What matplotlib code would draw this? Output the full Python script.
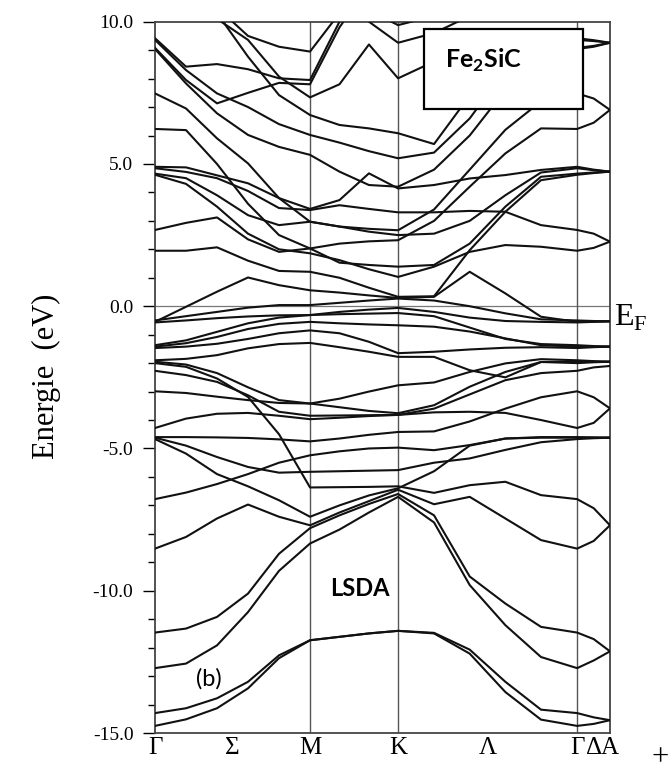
import matplotlib
matplotlib.use("Agg")
import matplotlib.pyplot as plt
from matplotlib.patches import Rectangle

plt.rcParams['font.family'] = ['Liberation Serif', 'DejaVu Serif']
plt.rcParams['mathtext.fontset'] = 'custom'
plt.rcParams['mathtext.rm'] = 'Liberation Serif'
plt.rcParams['mathtext.bf'] = 'Lato:bold'

# k-path: Γ -> M -> K -> Γ -> A (distances, Γ-M = 1)
kpath = [0.0, 0.2, 0.4, 0.6, 0.8, 1.0, 1.19, 1.38, 1.568,
         1.80, 2.03, 2.26, 2.49, 2.723, 2.83, 2.935]
kticks = [0.0, 0.5, 1.0, 1.568, 2.148, 2.723, 2.83, 2.935]
klabels = ['Γ', 'Σ', 'M', 'K', 'Λ', 'Γ', 'Δ', 'A']
sym_points = [1.0, 1.568, 2.723]

ytick_vals = [10, 5, 0, -5, -10, -15]
ytick_text = ['10.0', '5.0', '0.0', '-5.0', '-10.0', '-15.0']

# Si/C s-p bands and lower Fe d bands (eV)
low_bands = [
    [-14.75, -14.52, -14.13, -13.43, -12.37, -11.74, -11.62, -11.50, -11.41, -11.50, -12.21, -13.56, -14.53, -14.75, -14.68, -14.55],
    [-14.30, -14.13, -13.78, -13.20, -12.27, -11.74, -11.62, -11.50, -11.41, -11.48, -12.07, -13.20, -14.18, -14.30, -14.45, -14.55],
    [-12.72, -12.56, -11.92, -10.75, -9.30, -8.34, -7.85, -7.25, -6.70, -7.60, -9.80, -11.21, -12.33, -12.72, -12.45, -12.13],
    [-11.47, -11.33, -10.92, -10.10, -8.70, -7.80, -7.35, -6.95, -6.60, -7.35, -9.50, -10.45, -11.27, -11.47, -11.70, -12.13],
    [-8.52, -8.11, -7.46, -6.97, -7.40, -7.70, -7.25, -6.85, -6.45, -6.96, -6.70, -7.46, -8.22, -8.52, -8.25, -7.70],
    [-6.78, -6.55, -6.25, -5.90, -5.50, -5.24, -5.10, -5.00, -4.97, -5.06, -4.88, -4.65, -4.60, -4.60, -4.61, -4.62],
    [-4.67, -5.18, -5.90, -6.33, -6.82, -7.40, -7.00, -6.65, -6.40, -5.80, -4.90, -4.65, -4.62, -4.62, -4.62, -4.62],
    [-4.62, -4.90, -5.30, -5.65, -5.85, -5.82, -5.80, -5.78, -5.76, -5.50, -5.35, -5.05, -4.78, -4.67, -4.64, -4.62],
    [-4.60, -4.60, -4.61, -4.63, -4.68, -4.75, -4.65, -4.52, -4.42, -4.40, -4.05, -3.60, -3.20, -2.99, -3.20, -3.59],
    [-4.28, -3.95, -3.78, -3.75, -3.85, -3.97, -3.92, -3.86, -3.82, -3.73, -3.71, -3.75, -4.00, -4.28, -4.10, -3.59],
]

# d bands around the Fermi level
d_bands = [
    [-2.99, -3.05, -3.18, -3.30, -3.40, -3.42, -3.55, -3.68, -3.76, -3.48, -2.83, -2.31, -1.96, -2.00, -1.97, -1.95],
    [-2.27, -2.42, -2.66, -3.13, -3.71, -3.85, -3.84, -3.83, -3.82, -3.60, -3.10, -2.60, -2.35, -2.27, -2.15, -2.10],
    [-2.00, -2.13, -2.54, -3.19, -4.50, -6.37, -6.36, -6.35, -6.33, -6.56, -6.29, -6.17, -6.64, -6.78, -7.10, -7.70],
    [-1.95, -2.05, -2.35, -2.85, -3.30, -3.42, -3.25, -3.00, -2.78, -2.68, -2.31, -2.01, -1.86, -1.90, -1.93, -1.95],
    [-1.90, -1.85, -1.72, -1.48, -1.33, -1.29, -1.44, -1.60, -1.78, -1.78, -2.25, -2.50, -1.96, -1.95, -1.95, -1.95],
    [-1.47, -1.42, -1.32, -1.15, -0.95, -0.85, -0.95, -1.25, -1.65, -1.60, -1.52, -1.46, -1.44, -1.47, -1.44, -1.42],
    [-1.42, -1.30, -1.08, -0.80, -0.62, -0.55, -0.60, -0.64, -0.67, -0.72, -0.89, -1.13, -1.37, -1.42, -1.42, -1.42],
    [-1.37, -1.20, -0.90, -0.60, -0.40, -0.31, -0.28, -0.26, -0.24, -0.35, -0.75, -1.15, -1.33, -1.37, -1.40, -1.42],
    [-0.57, -0.50, -0.42, -0.36, -0.32, -0.31, -0.20, -0.12, -0.06, -0.20, -0.40, -0.52, -0.55, -0.57, -0.55, -0.53],
    [-0.50, -0.35, -0.20, -0.05, 0.04, 0.04, 0.12, 0.20, 0.27, 0.20, 0.00, -0.25, -0.46, -0.50, -0.52, -0.53],
    [-0.55, -0.02, 0.51, 1.01, 0.74, 0.56, 0.48, 0.38, 0.29, 0.33, 1.21, 0.45, -0.37, -0.55, -0.54, -0.53],
]

# conduction bands
upper_bands = [
    [1.95, 1.95, 2.07, 1.60, 1.24, 1.21, 1.00, 0.65, 0.33, 0.35, 1.97, 3.32, 4.43, 4.62, 4.68, 4.73],
    [2.68, 2.93, 3.12, 2.35, 1.91, 2.03, 1.53, 1.45, 1.39, 1.45, 2.20, 3.50, 4.55, 4.66, 4.70, 4.73],
    [4.62, 4.30, 3.50, 2.55, 2.00, 1.86, 1.62, 1.30, 1.03, 1.39, 1.91, 2.15, 2.09, 1.95, 2.05, 2.27],
    [4.66, 4.50, 3.90, 3.20, 2.85, 2.97, 2.80, 2.62, 2.50, 2.55, 3.00, 3.90, 4.70, 4.85, 4.78, 4.73],
    [4.85, 4.72, 4.50, 4.05, 3.45, 3.38, 3.55, 3.42, 3.30, 3.30, 3.35, 3.32, 2.85, 2.68, 2.55, 2.27],
    [4.90, 4.88, 4.60, 4.32, 3.80, 3.42, 3.73, 4.67, 4.14, 4.26, 4.49, 4.61, 4.79, 4.90, 4.80, 4.73],
    [6.23, 6.19, 5.00, 3.60, 2.50, 2.03, 2.20, 2.28, 2.32, 3.00, 4.20, 5.37, 6.25, 6.23, 6.45, 6.90],
    [7.48, 6.95, 5.90, 5.02, 3.80, 2.97, 2.80, 2.72, 2.67, 3.40, 4.80, 6.20, 7.20, 7.48, 7.30, 6.90],
    [9.42, 8.42, 8.51, 8.33, 8.01, 7.95, 10.0, 11.5, 12.5, 12.5, 12.2, 11.8, 11.6, 11.5, 11.5, 11.5],
    [9.36, 8.30, 7.48, 7.00, 6.40, 6.02, 5.75, 5.45, 5.20, 5.40, 6.60, 8.30, 9.20, 9.36, 9.32, 9.26],
    [9.08, 7.95, 7.13, 7.50, 7.85, 7.80, 9.80, 11.3, 12.2, 12.2, 12.1, 12.0, 12.0, 12.0, 11.9, 11.8],
    [9.04, 7.83, 6.78, 6.02, 5.60, 5.32, 4.73, 4.26, 4.20, 4.80, 6.00, 7.60, 8.80, 9.08, 9.15, 9.26],
    [11.0, 10.6, 10.1, 9.36, 8.07, 7.34, 7.80, 9.20, 8.01, 8.60, 9.00, 9.20, 9.10, 9.04, 9.12, 9.26],
    [11.4, 11.0, 10.3, 8.77, 7.42, 6.72, 6.37, 6.25, 6.08, 5.70, 7.40, 8.80, 9.30, 9.42, 9.35, 9.26],
    [12.0, 11.5, 10.5, 9.50, 9.12, 8.95, 10.3, 11.0, 12.0, 12.5, 13.0, 13.0, 12.8, 12.5, 12.4, 12.3],
    [13.0, 12.8, 12.5, 12.0, 11.5, 11.2, 10.8, 10.4, 9.88, 10.2, 10.5, 10.7, 10.8, 10.8, 10.8, 10.8],
    [13.5, 13.2, 12.9, 12.6, 12.3, 12.0, 11.2, 10.0, 9.26, 9.60, 10.2, 10.8, 11.1, 11.2, 11.1, 11.0],
]

W, H = 668, 771
fig = plt.figure(figsize=(W / 100, H / 100), dpi=100)
ax = fig.add_axes([155 / W, 1 - 733 / H, 455 / W, 711.3 / H])

for band in low_bands + d_bands + upper_bands:
    ax.plot(kpath, band, color='#111111', lw=1.5, zorder=3)

ax.axhline(0, color='#777777', lw=0.9, zorder=2)
for k in sym_points:
    ax.axvline(k, color='#555555', lw=1.0, zorder=2)

ax.set_xlim(kpath[0], kpath[-1])
ax.set_ylim(-15, 10)
ax.set_yticks(ytick_vals)
ax.set_yticklabels(ytick_text, fontsize=14)
ax.set_yticks(range(-15, 11), minor=True)
ax.tick_params(axis='y', which='major', direction='out', length=8.5, width=1, pad=7)
ax.tick_params(axis='y', which='minor', direction='out', length=5, width=1)
ax.set_xticks(kticks)
ax.set_xticklabels(klabels, fontsize=18)
ax.tick_params(axis='x', length=0, pad=3)
for s in ax.spines.values():
    s.set_color('#444444')
    s.set_linewidth(1.3)

# labels around the frame
fig.text(46 / W, 1 - 376 / H, 'Energie  (eV)', rotation=90, fontsize=22,
         ha='center', va='center')
fig.text(614 / W, 1 - 318 / H, r'E$_{\rm F}$', fontsize=23, ha='left', va='center')
fig.text(660 / W, 1 - 758 / H, '+', fontsize=22, ha='center', va='center')

# compound box
box = Rectangle((424 / W, 1 - 109 / H), 159 / W, 80 / H, transform=fig.transFigure,
                facecolor='white', edgecolor='black', lw=1.6, zorder=6, clip_on=False)
ax.add_patch(box)
fig.text(445 / W, 1 - 68 / H, r'Fe$_{\bf 2}$SiC', fontsize=18, fontweight='bold',
         family='Lato', ha='left', va='baseline', zorder=7)

fig.text(330 / W, 1 - 596 / H, 'LSDA', fontsize=17, fontweight='bold', family='Lato',
         ha='left', va='baseline', zorder=7)
fig.text(196 / W, 1 - 686 / H, '(b)', fontsize=17, family='Lato',
         ha='left', va='baseline', zorder=7)

fig.savefig('out.png', dpi=100)
